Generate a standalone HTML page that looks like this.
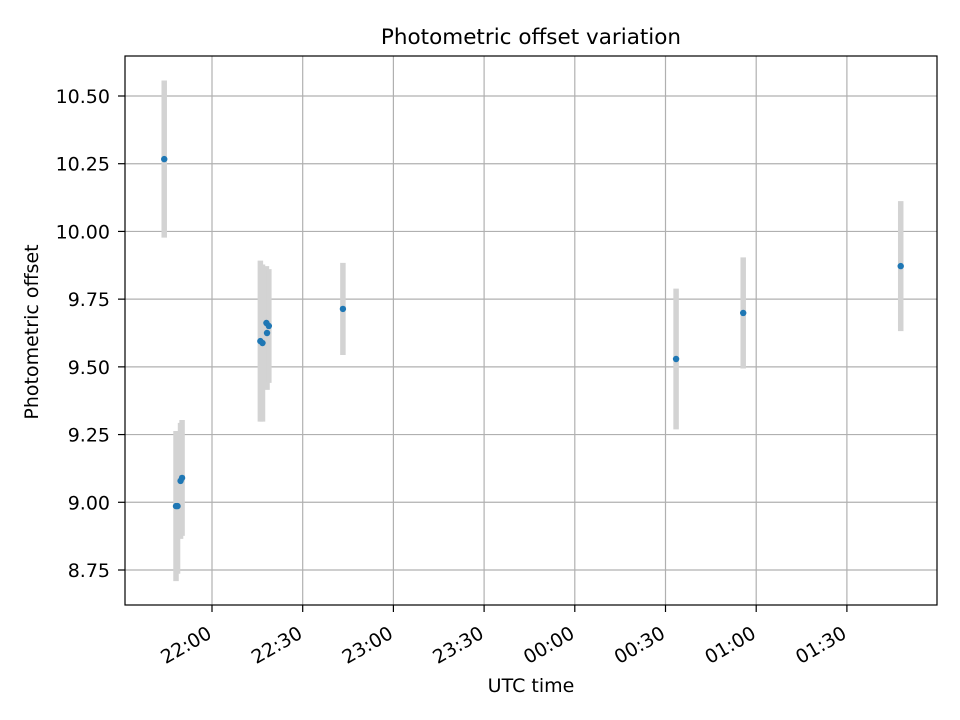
<!DOCTYPE html>
<html><head><meta charset="utf-8"><style>
html,body{margin:0;padding:0;background:#fff;}
svg{display:block;font-family:"DejaVu Sans","Liberation Sans",sans-serif;}
</style></head><body>
<svg id="chart" width="960" height="720" viewBox="0 0 960 720">
<rect width="960" height="720" fill="#fff"/>
<g id="grid"></g>
<g id="errs"></g>
<g id="pts"></g>
<rect x="125" y="56" width="812" height="549" fill="none" stroke="#000" stroke-width="1.2"/>
<g id="axes"></g>
<text x="531" y="44" text-anchor="middle" font-size="21.5">Photometric offset variation</text>
<text x="531" y="692" text-anchor="middle" font-size="19">UTC time</text>
<text transform="translate(38,332) rotate(-90)" text-anchor="middle" font-size="19">Photometric offset</text>
</svg>
<script>
// minutes relative to 22:00
const times = [-15.8, -11.9, -11.4, -10.4, -9.9, 16.0, 16.7, 18.2, 18.0, 18.8, 43.3, 153.5, 175.7, 227.8];
const offsets = [10.267, 8.986, 8.986, 9.079, 9.090, 9.595, 9.588, 9.625, 9.662, 9.651, 9.714, 9.529, 9.699, 9.872];
const errors = [0.29, 0.277, 0.25, 0.214, 0.214, 0.297, 0.29, 0.21, 0.21, 0.21, 0.17, 0.26, 0.205, 0.24];
const yTicks = [8.75, 9.00, 9.25, 9.50, 9.75, 10.00, 10.25, 10.50];
const xTicksMin = [0, 30, 60, 90, 120, 150, 180, 210];
const xTickLabels = ["22:00","22:30","23:00","23:30","00:00","00:30","01:00","01:30"];

const L=125,R=937,T=56,B=605;
const xs = m => 212 + m * (90.7/30);
const ys = v => 570 - (v - 8.75) * (474/1.75);
const NS="http://www.w3.org/2000/svg";
function mk(tag, attrs, parent){const e=document.createElementNS(NS,tag);for(const k in attrs)e.setAttribute(k,attrs[k]);parent.appendChild(e);return e;}
const grid=document.getElementById('grid'), axes=document.getElementById('axes');
yTicks.forEach((v,i)=>{
  const y=ys(v);
  const g=mk('line',{x1:L,x2:R,y1:y,y2:y,stroke:'#b0b0b0','stroke-width':1.2},grid);
  
  
  mk('line',{x1:L-7,x2:L,y1:y,y2:y,stroke:'#000','stroke-width':1.2},axes);
  const t=mk('text',{x:L-15,y:y+7,'text-anchor':'end','font-size':19},axes);
  t.textContent=v.toFixed(2);
  
  
});
xTicksMin.forEach((m,i)=>{
  const x=xs(m);
  const g=mk('line',{x1:x,x2:x,y1:T,y2:B,stroke:'#b0b0b0','stroke-width':1.2},grid);
  
  
  mk('line',{x1:x,x2:x,y1:B,y2:B+7,stroke:'#000','stroke-width':1.2},axes);
  const t=mk('text',{transform:`translate(${x+1},${B+32}) rotate(-30)`,'text-anchor':'end','font-size':19},axes);
  t.textContent=xTickLabels[i];
  
  
});
const errs=document.getElementById('errs'), pts=document.getElementById('pts');
times.forEach((m,i)=>{
  const x=xs(m);
  const e=mk('line',{x1:x,x2:x,y1:ys(offsets[i]+errors[i]),y2:ys(offsets[i]-errors[i]),stroke:'#d3d3d3','stroke-width':5.5},errs);
  
  
  const c=mk('circle',{cx:x,cy:ys(offsets[i]),r:3.2,fill:'#1f77b4'},pts);
  
  
});
</script>
</body></html>
